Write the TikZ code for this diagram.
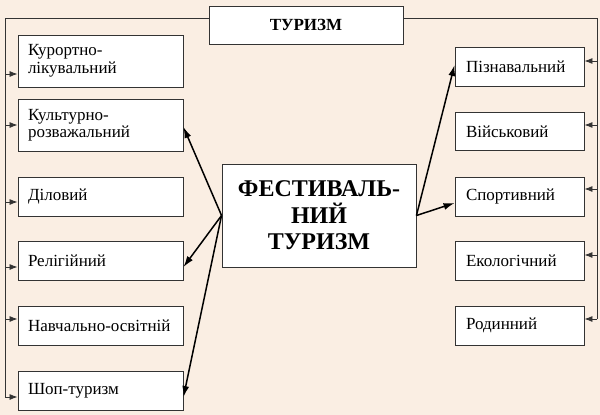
\documentclass[tikz,border=0pt]{standalone}
\usepackage{fontspec}
\setmainfont{Liberation Serif}
\usetikzlibrary{arrows.meta}
\definecolor{bg}{HTML}{FAEEE3}
\definecolor{edge}{HTML}{333333}

\begin{document}
\begin{tikzpicture}[x=1pt,y=-1pt,
  box/.style={draw=edge,fill=white,line width=0.9pt,minimum width=165pt,minimum height=39pt,
    inner xsep=10pt,text width=145pt,align=left,font=\fontsize{17}{17.5}\selectfont},
  rbox/.style={box,minimum width=129pt,inner xsep=11pt,text width=107pt},
  head/.style={draw=edge,fill=white,line width=0.9pt,align=center,inner sep=0pt},
  thin/.style={draw=edge,line width=0.8pt},
  tip/.style={thin,-{Latex[length=8pt,width=6pt]}},
  big/.style={line width=1.5pt,-{Latex[length=11pt,width=7pt]}}]

\fill[bg] (0,0) rectangle (600,415);
\useasboundingbox (0,0) rectangle (600,415);

\node[head,minimum width=194pt,minimum height=38pt,font=\fontsize{17}{17}\selectfont\bfseries] (tur) at (306,25) {ТУРИЗМ};
\node[head,minimum width=194pt,minimum height=103pt,font=\fontsize{24}{26.5}\selectfont\bfseries] (fest) at (319,215.5) {ФЕСТИВАЛЬ-\\НИЙ\\ТУРИЗМ};

%-------------------------------------
\node[box,minimum height=52pt] (kur) at (100.5,61) {Курортно-\\лікувальний};
\node[box,minimum height=52pt] (kult) at (100.5,125) {Культурно-\\розважальний};
\node[box] (dil) at (100.5,196.5) {Діловий};
\node[box] (rel) at (100.5,261) {Релігійний};
\node[box] (nav) at (100.5,325.5) {Навчально-освітній};
\node[box] (shop) at (100.5,390.5) {Шоп-туризм};

%-------------------------------------
\node[rbox] (pizn) at (519.5,66.5) {Пізнавальний};
\node[rbox,minimum height=38pt] (vijs) at (519.5,131.5) {Військовий};
\node[rbox] (sport) at (519.5,196.5) {Спортивний};
\node[rbox] (ekol) at (519.5,261) {Екологічний};
\node[rbox] (rod) at (519.5,325.5) {Родинний};

%-------------------------------------
\coordinate (lend) at (5,397);
\coordinate (rend) at (597,319);
\draw[thin] ([yshift=7pt]tur.west) -| (lend);
\draw[thin] ([yshift=7pt]tur.east) -| (rend);

\foreach \n/\y in {kur/74,kult/125,dil/202,rel/267,nav/319,shop/397}
  \draw[tip] (lend |- 0,\y) -- (\n.west |- 0,\y);
\foreach \n/\y in {pizn/61,vijs/125,sport/189,ekol/255,rod/319}
  \draw[tip] (rend |- 0,\y) -- (\n.east |- 0,\y);

%\draw (fest.west) -- (dil.east);

\draw[big] (fest.west) -- (kult.east |- 0,127);
\draw[big] (fest.west) -- (rel.east |- 0,267);
\draw[big] (fest.west) -- (shop.east |- 0,397);
\draw[big] (fest.east) -- (pizn.west |- 0,65);
\draw[big] (fest.east) -- (sport.west |- 0,203);

\end{tikzpicture}
\end{document}
